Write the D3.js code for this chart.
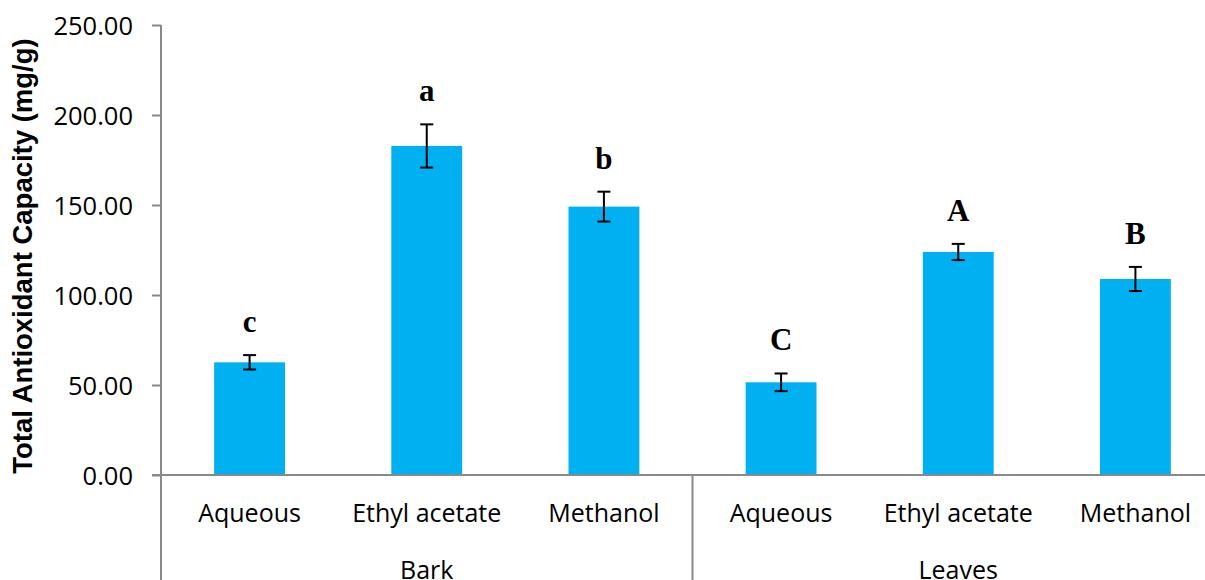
<!DOCTYPE html>
<html>
<head>
<meta charset="utf-8">
<script src="https://cdn.jsdelivr.net/npm/d3@7"></script>
<style>
  html, body { margin: 0; padding: 0; background: #fff; overflow: hidden; }
  svg { display: block; }
</style>
</head>
<body>
<svg id="chart" width="1205" height="580"></svg>
<script>
// Total antioxidant capacity of bark and leaf extracts (mean ± SD)
const groups = ["Bark", "Leaves"];
const solvents = ["Aqueous", "Ethyl acetate", "Methanol"];
const barkMeans = [62.6, 182.8, 149.1];
const barkErrors = [4.0, 12.0, 8.3];
const barkLetters = ["c", "a", "b"];
const leavesMeans = [51.5, 123.9, 108.9];
const leavesErrors = [4.9, 4.5, 6.7];
const leavesLetters = ["C", "A", "B"];
const yTicks = [0, 50, 100, 150, 200, 250];

const rows = [];
[[barkMeans, barkErrors, barkLetters], [leavesMeans, leavesErrors, leavesLetters]]
  .forEach(([means, errs, letters], gi) => {
    solvents.forEach((s, si) => {
      rows.push({ group: groups[gi], solvent: s, key: groups[gi] + "|" + s,
                  mean: means[si], err: errs[si], letter: letters[si] });
    });
  });

const svg = d3.select("#chart");
const axisX = 161, plotRight = 1224, plotTop = 25, plotBase = 475;

const x = d3.scaleBand()
  .domain(rows.map(d => d.key))
  .range([axisX, plotRight])
  .paddingInner(0.6)
  .paddingOuter(0.3);
const step = x.step();

const y = d3.scaleLinear().domain([0, 250]).range([plotBase, plotTop]);

const axisColor = "#898989";
const sansFont = "'Open Sans', 'Liberation Sans', sans-serif";

// Bars
svg.append("g").selectAll("rect").data(rows).join("rect")
  .attr("x", d => x(d.key))
  .attr("y", d => y(d.mean))
  .attr("width", x.bandwidth())
  .attr("height", d => y(0) - y(d.mean))
  .attr("fill", "#00B0F0");

// Error bars
const eb = svg.append("g").attr("stroke", "#000").attr("stroke-width", 2);
rows.forEach(d => {
  const cx = x(d.key) + x.bandwidth() / 2;
  eb.append("line").attr("x1", cx).attr("x2", cx)
    .attr("y1", y(d.mean + d.err)).attr("y2", y(d.mean - d.err));
  [d.mean + d.err, d.mean - d.err].forEach(v => {
    eb.append("line").attr("x1", cx - 6.5).attr("x2", cx + 6.5)
      .attr("y1", y(v)).attr("y2", y(v));
  });
});

// Significance letters
svg.append("g").selectAll("text").data(rows).join("text")
  .attr("x", d => x(d.key) + x.bandwidth() / 2)
  .attr("y", d => y(d.mean + d.err) - 23)
  .attr("text-anchor", "middle")
  .attr("font-family", "'Liberation Serif', 'Times New Roman', serif")
  .attr("font-weight", "bold")
  .attr("font-size", 31)
  .text(d => d.letter);

// Y axis
const yAxis = svg.append("g")
  .attr("transform", `translate(${axisX},0)`)
  .call(d3.axisLeft(y).tickValues(yTicks).tickFormat(d3.format(".2f")).tickSize(9).tickSizeOuter(0));
yAxis.select(".domain").remove();
yAxis.selectAll(".tick line").attr("stroke", axisColor).attr("stroke-width", 2);
yAxis.selectAll(".tick text")
  .attr("x", -28)
  .attr("dy", "0.36em")
  .attr("fill", "#000")
  .attr("font-family", sansFont)
  .attr("font-size", 25.5);

// Axis lines
svg.append("line").attr("x1", axisX).attr("x2", axisX)
  .attr("y1", plotTop).attr("y2", 580)
  .attr("stroke", axisColor).attr("stroke-width", 2);
svg.append("line").attr("x1", axisX - 9).attr("x2", 1205)
  .attr("y1", plotBase).attr("y2", plotBase)
  .attr("stroke", axisColor).attr("stroke-width", 2);

// Group dividers in the category label area
groups.forEach((g, gi) => {
  const gx = axisX + (gi + 1) * 3 * step;
  svg.append("line").attr("x1", gx).attr("x2", gx)
    .attr("y1", plotBase).attr("y2", 580)
    .attr("stroke", axisColor).attr("stroke-width", 2);
});

// Solvent labels
svg.append("g").selectAll("text").data(rows).join("text")
  .attr("x", d => x(d.key) + x.bandwidth() / 2)
  .attr("y", 522)
  .attr("text-anchor", "middle")
  .attr("font-family", sansFont)
  .attr("font-size", 25)
  .attr("fill", "#000")
  .text(d => d.solvent);

// Group labels
svg.append("g").selectAll("text").data(groups).join("text")
  .attr("x", (g, gi) => axisX + (gi * 3 + 1.5) * step)
  .attr("y", 579)
  .attr("text-anchor", "middle")
  .attr("font-family", sansFont)
  .attr("font-size", 25)
  .attr("fill", "#000")
  .text(g => g);

// Y axis title
svg.append("text")
  .attr("transform", "translate(32,256) rotate(-90)")
  .attr("text-anchor", "middle")
  .attr("font-family", "'Liberation Sans', Arial, sans-serif")
  .attr("font-weight", "bold")
  .attr("font-size", 27.5)
  .attr("fill", "#000")
  .text("Total Antioxidant Capacity (mg/g)");
</script>
</body>
</html>
